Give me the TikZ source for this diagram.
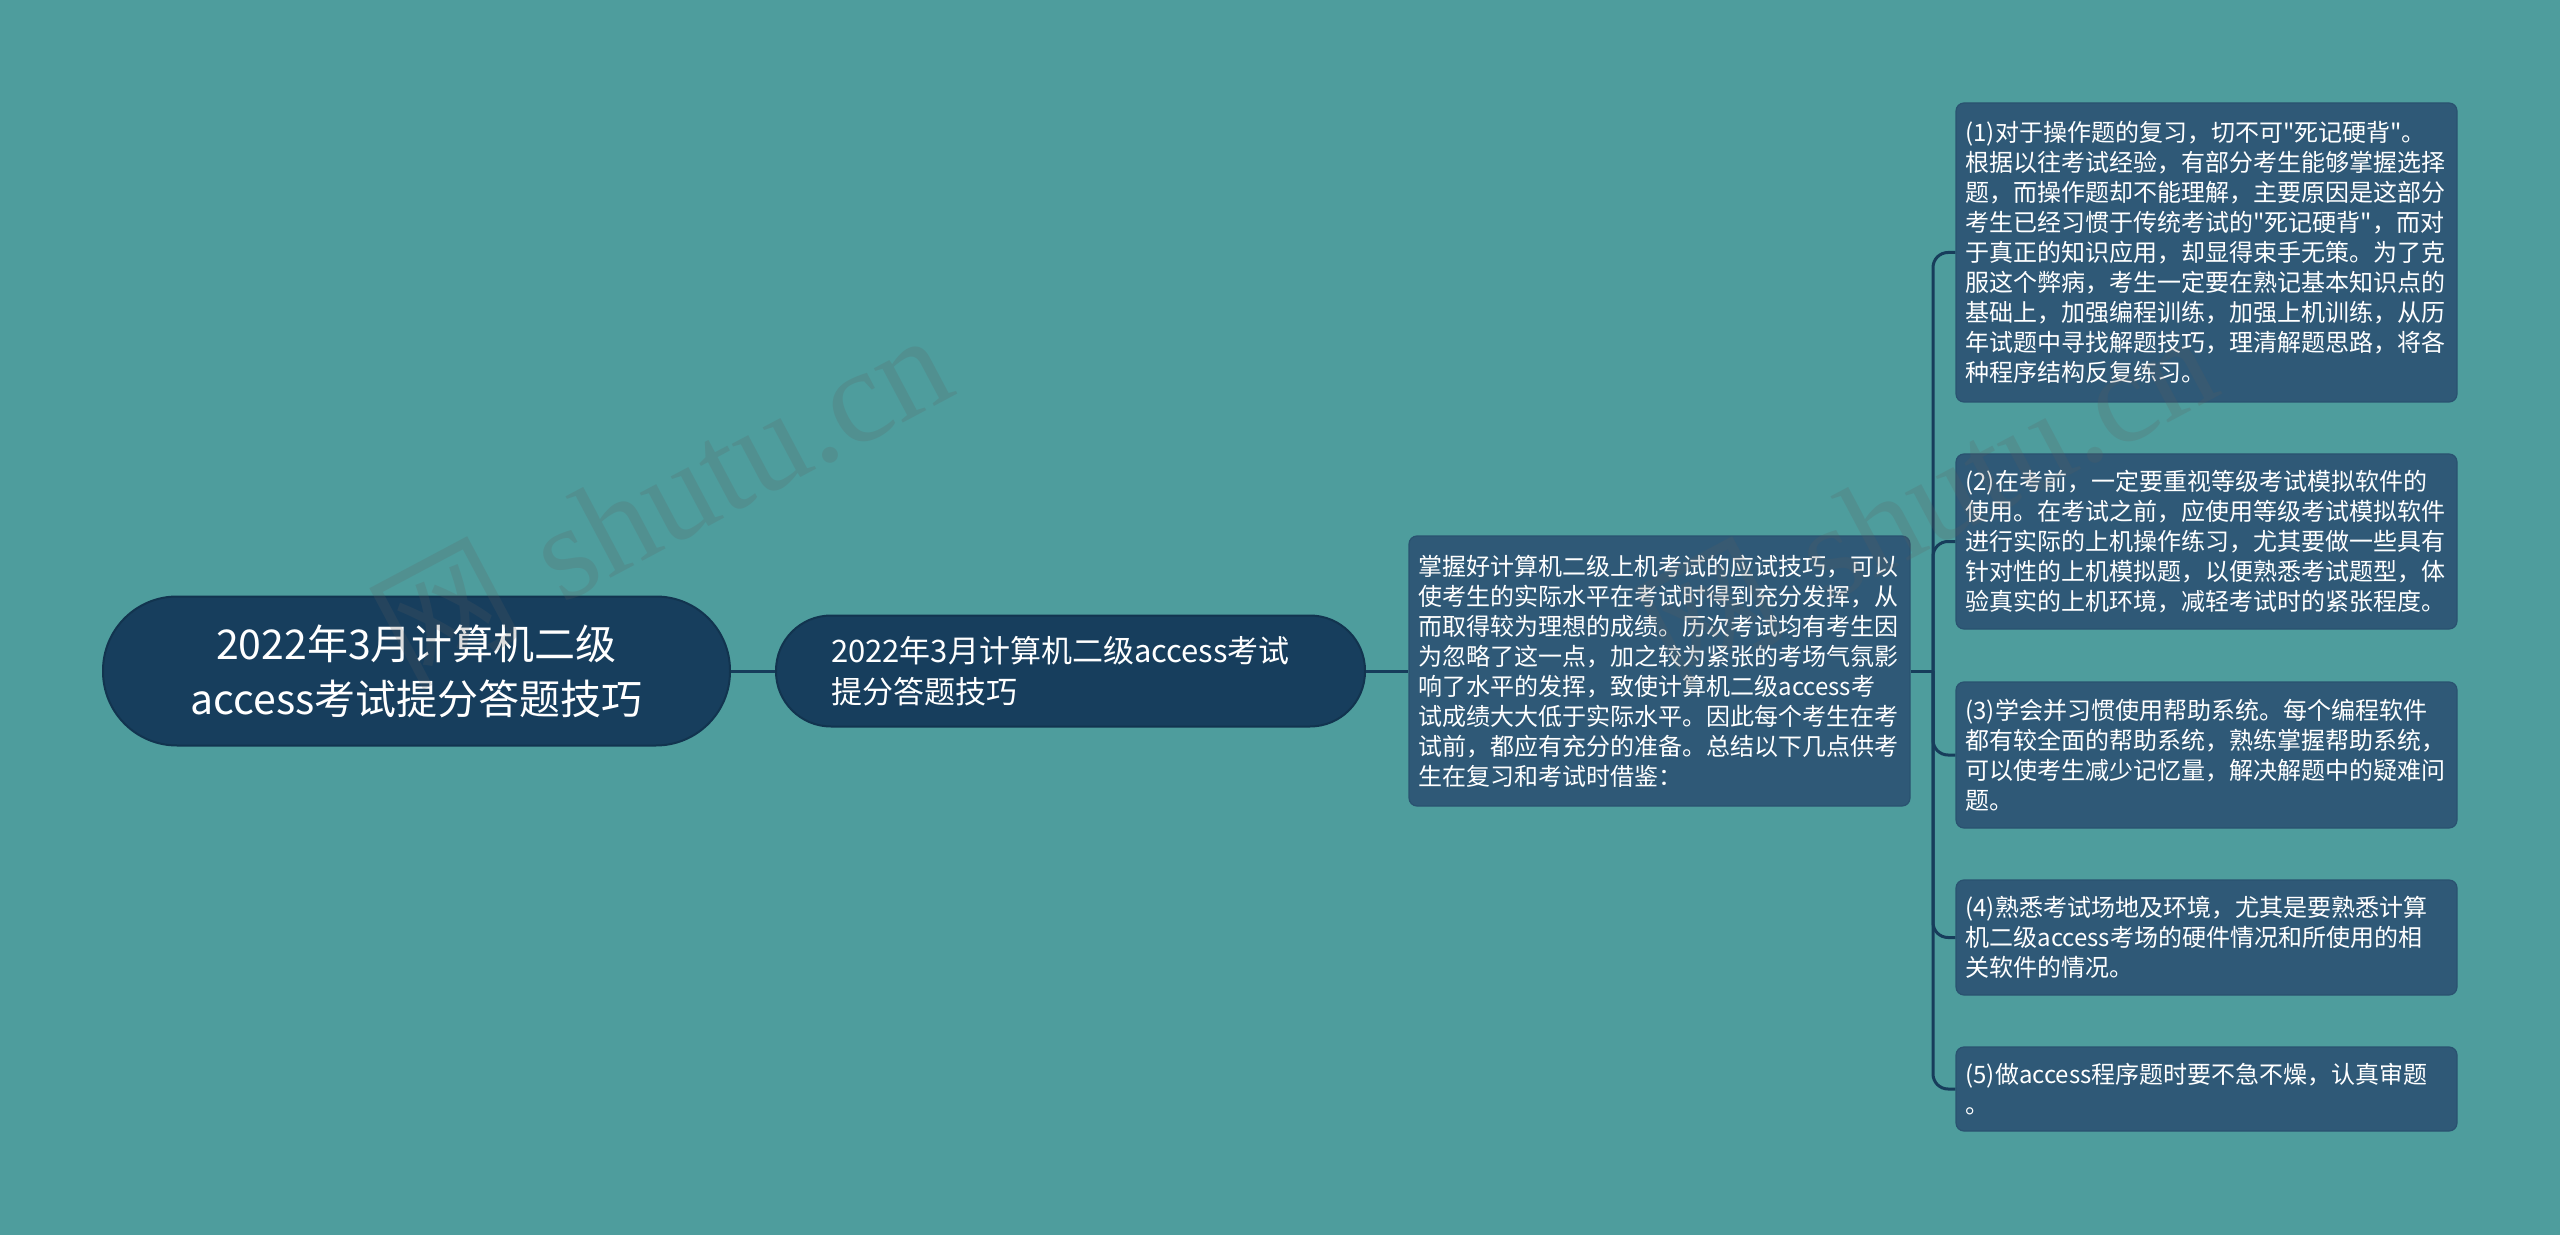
\documentclass[tikz,border=0pt]{standalone}
\usepackage{fontspec}
\setmainfont{Noto Sans CJK SC}
\newfontfamily\cjkfont{Noto Sans CJK SC}
\newfontfamily\wmfont{Liberation Serif}
\definecolor{bgc}{HTML}{4E9D9D}
\definecolor{rootc}{HTML}{173E5D}
\definecolor{rootedge}{HTML}{12344F}
\definecolor{leafc}{HTML}{2F5977}
\definecolor{leafedge}{HTML}{2A5270}
\definecolor{linec}{HTML}{173D5B}
\definecolor{wmc}{HTML}{5E5E5E}
\begin{document}
\begin{tikzpicture}[x=0.5pt,y=-0.5pt,
  rootbox/.style={fill=rootc, draw=rootedge, line width=1pt, rounded corners=37pt,
    text=white, align=center, minimum width=313.5pt, minimum height=74.5pt, inner sep=0pt,
    font=\cjkfont\fontsize{20.5}{27.5}\selectfont},
  subbox/.style={fill=rootc, draw=rootedge, line width=1pt, rounded corners=27.5pt,
    text=white, align=left, text width=239.5pt, inner xsep=27.5pt, inner ysep=0pt,
    minimum height=55.5pt, font=\cjkfont\fontsize{15.5}{20.5}\selectfont},
  leafbox/.style={fill=leafc, draw=leafedge, line width=0.6pt, rounded corners=4pt,
    text=white, align=left, text width=241pt, inner xsep=4.75pt, inner ysep=0pt,
    font=\cjkfont\fontsize{12}{15}\selectfont},
  conn/.style={draw=linec, line width=1.5pt},
  wm/.style={text=wmc, opacity=0.2, rotate=28, inner sep=0pt, font=\fontsize{67}{67}\selectfont}
]
\path[fill=bgc] (0,0) rectangle (2560,1235);

\node[rootbox] (root) at (416.5,671) {2022年3月计算机二级\\access考试提分答题技巧};
\node[subbox] (sub) at (1070.5,671) {2022年3月计算机二级access考试\\提分答题技巧};
\node[leafbox, minimum height=135pt] (desc) at (1659.5,671) {掌握好计算机二级上机考试的应试技巧，可以\\
使考生的实际水平在考试时得到充分发挥，从\\
而取得较为理想的成绩。历次考试均有考生因\\
为忽略了这一点，加之较为紧张的考场气氛影\\
响了水平的发挥，致使计算机二级access考\\
试成绩大大低于实际水平。因此每个考生在考\\
试前，都应有充分的准备。总结以下几点供考\\
生在复习和考试时借鉴：};

\node[leafbox, minimum height=149.5pt] (leaf1) at (2206.5,252.5) {(1)对于操作题的复习，切不可"死记硬背"。\\
根据以往考试经验，有部分考生能够掌握选择\\
题，而操作题却不能理解，主要原因是这部分\\
考生已经习惯于传统考试的"死记硬背"，而对\\
于真正的知识应用，却显得束手无策。为了克\\
服这个弊病，考生一定要在熟记基本知识点的\\
基础上，加强编程训练，加强上机训练，从历\\
年试题中寻找解题技巧，理清解题思路，将各\\
种程序结构反复练习。};

\node[leafbox, minimum height=87.5pt] (leaf2) at (2206.5,541.5) {(2)在考前，一定要重视等级考试模拟软件的\\
使用。在考试之前，应使用等级考试模拟软件\\
进行实际的上机操作练习，尤其要做一些具有\\
针对性的上机模拟题，以便熟悉考试题型，体\\
验真实的上机环境，减轻考试时的紧张程度。};

\node[leafbox, minimum height=73pt] (leaf3) at (2206.5,755) {(3)学会并习惯使用帮助系统。每个编程软件\\
都有较全面的帮助系统，熟练掌握帮助系统，\\
可以使考生减少记忆量，解决解题中的疑难问\\
题。};

\node[leafbox, minimum height=57.5pt] (leaf4) at (2206.5,937.5) {(4)熟悉考试场地及环境，尤其是要熟悉计算\\
机二级access考场的硬件情况和所使用的相\\
关软件的情况。};

\node[leafbox, minimum height=42pt] (leaf5) at (2206.5,1089) {(5)做access程序题时要不急不燥，认真审题\\
。};

\draw[conn] (root.east) -- (sub.west);
\draw[conn] (sub.east) -- (desc.west);
\coordinate (trunk) at (1933,671);
\draw[conn] (desc.east) -- (trunk);
\foreach \i in {1,...,5}{
  \draw[conn, rounded corners=7.5pt] (trunk) |- (leaf\i.west);
}

\node[wm] (wm1) at (662,498) {{\cjkfont 网}\hspace{0.3em}{\wmfont shutu.cn}};
\node[wm] (wm2) at (1927,498) {{\cjkfont 网}\hspace{0.3em}{\wmfont shutu.cn}};
\end{tikzpicture}
\end{document}
